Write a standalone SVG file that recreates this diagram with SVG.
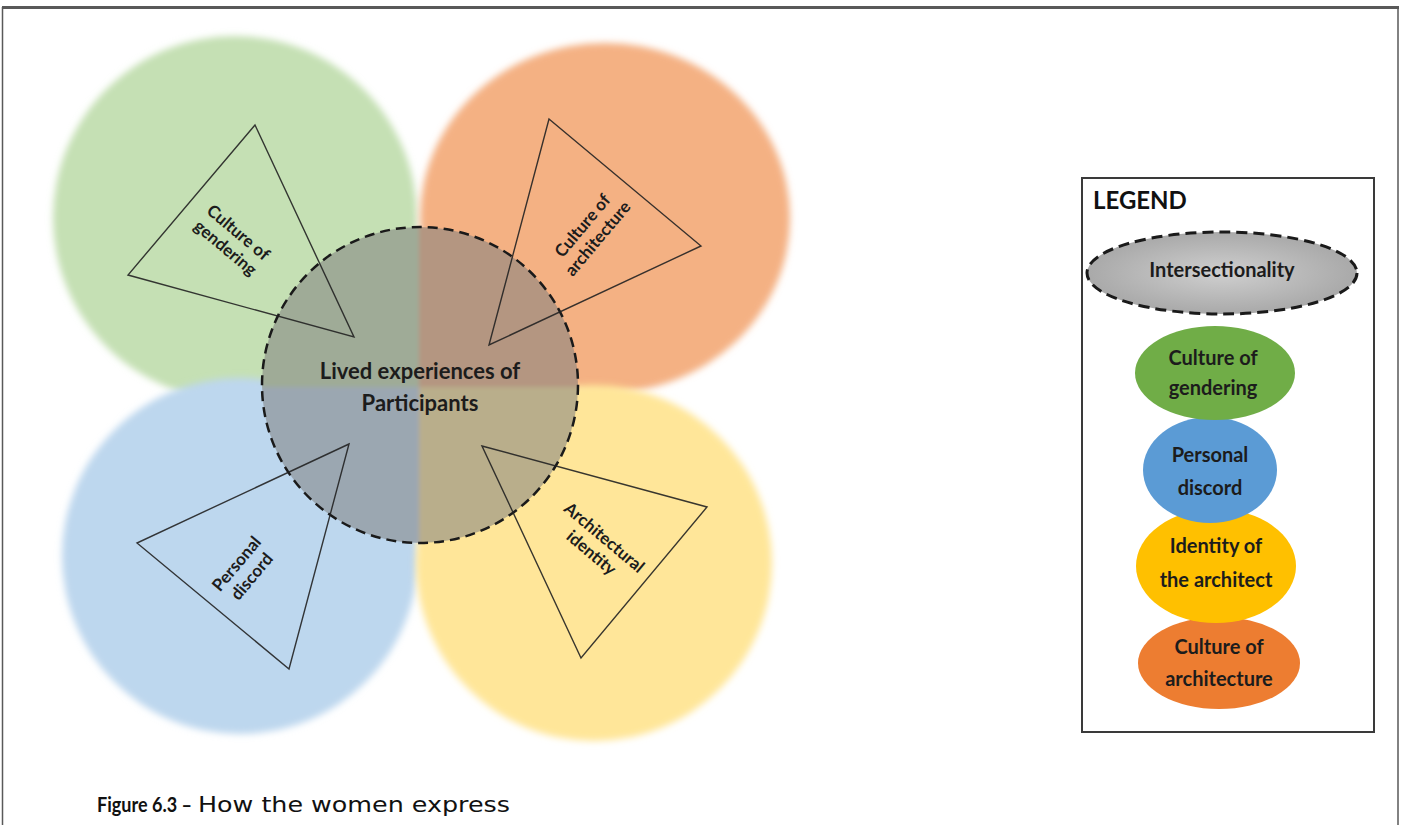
<svg xmlns="http://www.w3.org/2000/svg" width="1402" height="825" viewBox="0 0 1402 825">
  <style>
    .lbl { font-family: Lato, "Open Sans", sans-serif; font-weight: bold; fill: #1c1c1c; text-anchor: middle; }
    .tri { fill: none; stroke: #222222; stroke-opacity: 0.9; stroke-width: 1.4; stroke-linejoin: miter; }
    .frame { stroke: #595959; fill: none; }
    .cap { fill: #111; }
  </style>
  <defs>
    <filter id="soft" x="-10%" y="-10%" width="120%" height="120%">
      <feGaussianBlur stdDeviation="3.5"/>
    </filter>
    <filter id="softer" x="-5%" y="-5%" width="110%" height="110%">
      <feGaussianBlur stdDeviation="2"/>
    </filter>
    <clipPath id="hub">
      <circle cx="420" cy="385" r="158"/>
    </clipPath>
    <radialGradient id="greyFill" cx="50%" cy="50%" r="50%">
      <stop offset="0" stop-color="#cfcfcf"/>
      <stop offset="1" stop-color="#a9a9a9"/>
    </radialGradient>
  </defs>

  <rect width="1402" height="825" fill="#ffffff"/>

  <!-- page frame -->
  <line class="frame" x1="2" y1="7.5" x2="1399" y2="7.5" stroke-width="3"/>
  <line class="frame" x1="2.5" y1="7" x2="2.5" y2="825" stroke-width="1.5"/>
  <line class="frame" x1="1398" y1="7" x2="1398" y2="825" stroke-width="1.5"/>

  <!-- four theme discs -->
  <g id="disc-gendering"><circle cx="235" cy="218" r="182" fill="#c5e0b4" filter="url(#soft)"/></g>
  <g id="disc-architecture"><ellipse cx="605" cy="218" rx="185" ry="175" fill="#f4b183" filter="url(#soft)"/></g>
  <g id="disc-discord"><circle cx="240" cy="556" r="178" fill="#bdd7ee" filter="url(#soft)"/></g>
  <g id="disc-identity"><circle cx="594" cy="563" r="178" fill="#ffe699" filter="url(#soft)"/></g>

  <!-- central intersection: quadrant tints under a grey veil -->
  <g id="lived-experiences">
    <g clip-path="url(#hub)">
      <g filter="url(#softer)">
        <rect x="250" y="215" width="169" height="172" fill="#c5e0b4"/>
        <rect x="419" y="215" width="170" height="172" fill="#f4b183"/>
        <rect x="250" y="387" width="169" height="170" fill="#bdd7ee"/>
        <rect x="419" y="387" width="170" height="170" fill="#ffe699"/>
      </g>
    </g>
    <circle cx="420" cy="385" r="158" fill="#7f7f7f" fill-opacity="0.55" stroke="#1a1a1a" stroke-width="2.5" stroke-dasharray="10 6"/>
    <text class="lbl" x="420" y="379" font-size="22">Lived experiences of</text>
    <text class="lbl" x="420" y="411" font-size="22">Participants</text>
  </g>

  <!-- triangles pointing into the centre -->
  <g id="connectors">
    <polygon class="tri" points="255,125 128,275 354,337"/>
    <polygon class="tri" points="549,119 701,246 489,345"/>
    <polygon class="tri" points="349,444 137,543 289,669"/>
    <polygon class="tri" points="482,446 707,507 581,658"/>
  </g>

  <g id="tri-gendering" transform="translate(232,240) rotate(40)">
    <text class="lbl" x="0" y="-4" font-size="17">Culture of</text>
    <text class="lbl" x="0" y="16" font-size="17">gendering</text>
  </g>
  <g id="tri-architecture" transform="translate(590,232) rotate(-50)">
    <text class="lbl" x="0" y="-4" font-size="17">Culture of</text>
    <text class="lbl" x="0" y="16" font-size="17">architecture</text>
  </g>
  <g id="tri-discord" transform="translate(244,570) rotate(-50)">
    <text class="lbl" x="0" y="-4" font-size="17">Personal</text>
    <text class="lbl" x="0" y="16" font-size="17">discord</text>
  </g>
  <g id="tri-identity" transform="translate(598,545) rotate(40)">
    <text class="lbl" x="0" y="-4" font-size="17">Architectural</text>
    <text class="lbl" x="0" y="16" font-size="17">identity</text>
  </g>

  <!-- legend -->
  <g id="legend">
    <rect x="1082" y="178" width="292" height="554" fill="#ffffff" stroke="#3a3a3a" stroke-width="2"/>
    <text x="1093" y="209" font-family="Lato, 'Open Sans', sans-serif" font-weight="bold" font-size="24" fill="#111">LEGEND</text>
  </g>
  <g id="legend-intersectionality">
    <ellipse cx="1222" cy="273" rx="135" ry="41" fill="url(#greyFill)" stroke="#1a1a1a" stroke-width="3" stroke-dasharray="11 6"/>
    <text class="lbl" x="1222" y="277" font-size="20">Intersectionality</text>
  </g>
  <g id="legend-architecture">
    <ellipse cx="1219" cy="663" rx="81" ry="46" fill="#ed7d31"/>
    <text class="lbl" x="1219" y="654" font-size="20">Culture of</text>
    <text class="lbl" x="1219" y="686" font-size="20">architecture</text>
  </g>
  <g id="legend-identity">
    <ellipse cx="1216" cy="566" rx="80" ry="57" fill="#ffc000"/>
    <text class="lbl" x="1216" y="553" font-size="20">Identity of</text>
    <text class="lbl" x="1216" y="587" font-size="20">the architect</text>
  </g>
  <g id="legend-discord">
    <ellipse cx="1210" cy="470" rx="67" ry="53" fill="#5b9bd5"/>
    <text class="lbl" x="1210" y="462" font-size="20">Personal</text>
    <text class="lbl" x="1210" y="495" font-size="20">discord</text>
  </g>
  <g id="legend-gendering">
    <ellipse cx="1215" cy="373" rx="80" ry="47" fill="#70ad47"/>
    <text class="lbl" x="1213" y="365" font-size="20">Culture of</text>
    <text class="lbl" x="1213" y="395" font-size="20">gendering</text>
  </g>

  <!-- caption -->
  <g id="caption">
    <text class="cap" x="97" y="812" font-family="Lato, 'Liberation Sans', sans-serif" font-weight="bold" font-size="21" textLength="95" lengthAdjust="spacingAndGlyphs">Figure 6.3 –</text>
    <text class="cap" x="198" y="812" font-family="'DejaVu Sans', 'Liberation Sans', sans-serif" font-size="22" textLength="312" lengthAdjust="spacingAndGlyphs">How the women express</text>
  </g>
</svg>
